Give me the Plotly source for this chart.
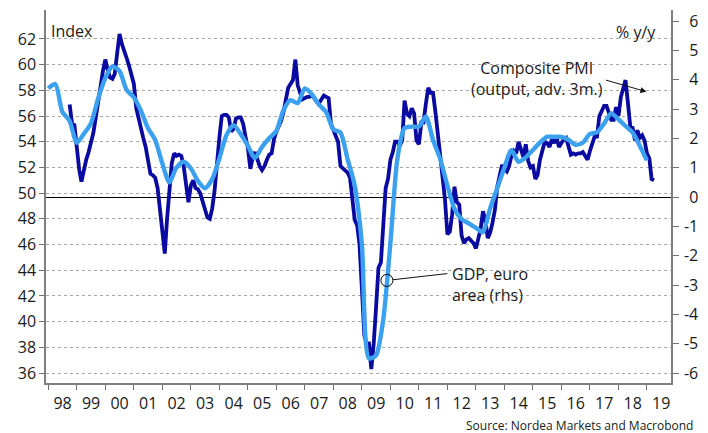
import numpy as np
import pandas as pd
import plotly.graph_objects as go

# ---------------- data ----------------
# Composite PMI (output), shifted forward 3 months, monthly from Oct 1998 (left axis)
pmi_start = "1998-10-01"
pmi_values = [
    56.9, 55.4, 55.3,
    53.4, 51.8, 50.9, 51.8, 52.6, 53.2, 53.9, 54.7, 55.9, 57.3, 58.3, 59.5,   # 1999
    60.4, 59.6, 59.0, 58.9, 59.3, 60.9, 62.4, 61.6, 61.1, 60.5, 59.9, 59.2,   # 2000
    58.5, 56.6, 55.8, 55.1, 54.3, 53.6, 52.4, 51.5, 51.4, 51.2, 50.4, 48.6,   # 2001
    46.8, 45.3, 47.9, 50.2, 52.3, 53.1, 52.9, 53.0, 52.9, 52.1, 50.5, 49.3,   # 2002
    50.6, 51.0, 50.4, 50.3, 50.0, 49.3, 48.6, 48.1, 48.0, 48.8, 50.2, 52.5,   # 2003
    54.3, 56.0, 56.1, 56.1, 55.9, 54.8, 55.0, 55.8, 55.9, 55.9, 55.4, 54.4,   # 2004
    53.5, 51.9, 52.7, 53.2, 52.6, 52.1, 51.8, 52.1, 52.6, 53.0, 53.1, 54.2,   # 2005
    54.8, 55.2, 55.6, 56.3, 57.4, 58.2, 58.5, 58.8, 60.4, 58.4, 57.8, 57.3,   # 2006
    57.4, 57.5, 57.5, 57.6, 57.4, 57.1, 57.0, 57.3, 57.6, 57.5, 57.4, 55.4,   # 2007
    54.9, 54.4, 54.0, 52.1, 51.9, 51.8, 51.6, 51.2, 49.8, 47.9, 47.5, 46.0,   # 2008
    42.5, 38.9, 38.3, 38.3, 36.3, 38.3, 41.1, 44.2, 44.6, 47.0, 50.4, 51.1,   # 2009
    52.6, 53.2, 54.0, 54.0, 53.7, 54.1, 57.2, 56.2, 56.0, 56.6, 56.2, 54.1,   # 2010
    53.8, 55.5, 55.5, 57.0, 58.2, 57.8, 57.8, 56.3, 54.5, 52.3, 51.2, 49.5,   # 2011
    46.8, 47.0, 48.3, 50.5, 49.3, 49.1, 46.7, 46.1, 46.4, 46.5, 46.3, 46.1,   # 2012
    45.7, 46.5, 47.2, 48.6, 47.9, 46.5, 46.9, 47.7, 48.7, 50.5, 51.5, 52.2,   # 2013
    51.9, 51.7, 52.1, 52.9, 53.3, 53.1, 54.0, 53.5, 52.8, 53.8, 52.5, 52.0,   # 2014
    52.1, 51.1, 51.4, 52.6, 53.3, 54.0, 53.9, 53.6, 54.2, 53.9, 54.3, 53.6,   # 2015
    53.9, 54.2, 54.3, 53.6, 53.0, 53.1, 53.0, 53.1, 53.1, 53.2, 52.9, 52.6,   # 2016
    53.3, 53.9, 54.4, 54.4, 56.0, 56.4, 56.8, 56.8, 56.3, 55.7, 55.7, 56.7,   # 2017
    56.0, 57.5, 58.1, 58.8, 57.1, 55.2, 55.1, 54.1, 54.9, 54.3, 54.5, 54.1,   # 2018
    53.1, 52.7, 51.1, 51.0,                                                   # 2019
]

# GDP euro area, % y/y, quarterly (quarter-end dates from 1997Q4) (right axis)
gdp_start = "1997-12-31"
gdp_values = [
    3.7,
    3.85, 2.9, 2.6, 1.85,     # 1998
    2.15, 2.5, 3.35, 4.05,    # 1999
    4.45, 4.3, 3.65, 3.4,     # 2000
    2.95, 2.35, 1.95, 1.15,   # 2001
    0.5, 1.0, 1.2, 0.98,      # 2002
    0.55, 0.3, 0.6, 1.3,      # 2003
    2.1, 2.45, 2.15, 1.75,    # 2004
    1.32, 1.7, 2.0, 2.25,     # 2005
    2.95, 3.3, 3.2, 3.7,      # 2006
    3.5, 3.15, 2.9, 2.3,      # 2007
    2.2, 1.3, 0.4, -1.6,      # 2008
    -5.5, -5.4, -4.2, -1.6,   # 2009
    1.3, 2.35, 2.4, 2.4,      # 2010
    2.75, 1.95, 1.3, 0.4,     # 2011
    -0.4, -0.75, -0.9, -1.05, # 2012
    -1.2, -0.4, 0.3, 1.0,     # 2013
    1.6, 1.2, 1.35, 1.6,      # 2014
    1.85, 2.05, 2.05, 2.05,   # 2015
    1.95, 1.78, 1.85, 2.15,   # 2016
    2.2, 2.5, 2.85, 2.65,     # 2017
    2.42, 2.2, 1.75, 1.25,    # 2018
]

left_ticks = list(range(36, 63, 2))
right_ticks = list(range(-6, 7))
# non-negative labels get a narrow leading space so the column looks right-aligned
right_ticktext = [("-" + str(-v)) if v < 0 else ("\u2004" + str(v)) for v in right_ticks]

gdp_callout_date = "2009-11-17"
pmi_arrow_date = "2018-12-25"
pmi_arrow_level = 57.9

# ---------------- build ----------------
pmi_dates = pd.date_range(pmi_start, periods=len(pmi_values), freq="MS")
gdp_dates = pd.date_range(gdp_start, periods=len(gdp_values), freq=pd.offsets.QuarterEnd())

callout_ts = pd.Timestamp(gdp_callout_date)
callout_val = float(np.interp(callout_ts.value, gdp_dates.asi8, gdp_values))

DARK = "#0A0AA0"
LIGHT = "#3CA0F0"
FONT = "Open Sans"
TXT = "#1a1a1a"

fig = go.Figure()
fig.add_trace(go.Scatter(x=pmi_dates, y=pmi_values, mode="lines",
                         line=dict(color=DARK, width=3.8), yaxis="y",
                         showlegend=False, hoverinfo="skip"))
fig.add_trace(go.Scatter(x=gdp_dates, y=gdp_values, mode="lines",
                         line=dict(color=LIGHT, width=4.4, shape="spline", smoothing=0.7),
                         yaxis="y2", showlegend=False, hoverinfo="skip"))
fig.add_trace(go.Scatter(x=[callout_ts], y=[callout_val], mode="markers",
                         marker=dict(symbol="circle-open", size=12, color="black",
                                     line=dict(width=1, color="black")),
                         yaxis="y2", showlegend=False, hoverinfo="skip"))

L, R, T, B = 46, 31, 10, 50
W, H = 708, 433
pw = W - L - R
ph = H - T - B

def px(x):
    return (x - L) / pw

def py(y):
    return (H - B - y) / ph

fig.update_layout(
    width=W, height=H,
    margin=dict(l=L, r=R, t=T, b=B, pad=0),
    paper_bgcolor="white", plot_bgcolor="white",
    font=dict(family=FONT, size=16, color=TXT),
    xaxis=dict(
        type="date",
        range=["1997-12-02", "2019-11-05"],
        tick0="1998-01-01", dtick="M12", tickformat="%y",
        ticklabelmode="period",
        ticks="outside", ticklen=5, tickcolor="#707070", tickwidth=1.3,
        showline=True, linecolor="#808080", linewidth=1.5,
        showgrid=False, zeroline=False,
        tickfont=dict(size=16, color=TXT),
    ),
    yaxis=dict(
        range=[35.222, 64.257],
        tickvals=left_ticks,
        ticks="outside", ticklen=5, tickcolor="#707070", tickwidth=1.3,
        showline=True, linecolor="#808080", linewidth=1.5,
        showgrid=True, gridcolor="#a8a8a8", gridwidth=1, griddash="dot",
        zeroline=False,
        tickfont=dict(size=16, color=TXT),
    ),
    yaxis2=dict(
        range=[-6.341, 6.375],
        overlaying="y", side="right",
        tickvals=right_ticks, ticktext=right_ticktext,
        ticks="outside", ticklen=6, tickcolor="#707070", tickwidth=1.3,
        ticklabelstandoff=2,
        showline=True, linecolor="#808080", linewidth=1.5,
        showgrid=False,
        zeroline=True, zerolinecolor="black", zerolinewidth=1.2,
        tickfont=dict(size=16, color=TXT),
    ),
)

annotations = [
    dict(text="Index", xref="paper", yref="paper", x=px(49), y=py(30.5),
         xanchor="left", yanchor="middle", showarrow=False),
    dict(text="% y/y", xref="paper", yref="paper", x=px(664), y=py(31.5),
         xanchor="right", yanchor="middle", showarrow=False),
    dict(text="Composite PMI<br>(output, adv. 3m.)", xref="paper", yref="paper",
         x=px(541.7), y=py(78.3), xanchor="center", yanchor="middle",
         align="center", showarrow=False),
    dict(text="GDP, euro<br>area (rhs)", xref="paper", yref="paper",
         x=px(454), y=py(284), xanchor="left", yanchor="middle",
         align="left", showarrow=False),
    dict(text="Source: Nordea Markets and Macrobond", xref="paper", yref="paper",
         x=px(701), y=py(425.5), xanchor="right", yanchor="middle",
         showarrow=False, font=dict(size=12, color=TXT)),
    # arrow toward PMI
    dict(text="", x=pmi_arrow_date, y=pmi_arrow_level, xref="x", yref="y",
         showarrow=True, ax=-42, ay=-12, axref="pixel", ayref="pixel",
         arrowhead=2, arrowsize=1.2, arrowwidth=1, arrowcolor="#111"),
    # connector from GDP label to circle
    dict(text="", x=callout_ts, y=callout_val, xref="x", yref="y2",
         showarrow=True, ax=62, ay=-7, arrowhead=0, arrowwidth=1,
         arrowcolor="#111", standoff=6),
]
fig.update_layout(annotations=annotations)

fig.write_html("out.html",
               config={"displayModeBar": False},
               post_script="document.body.style.margin='0';document.body.style.padding='0';")
